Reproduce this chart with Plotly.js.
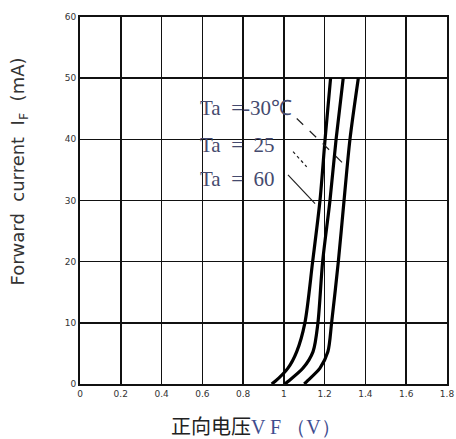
<!DOCTYPE html>
<html>
<head>
<meta charset="utf-8">
<script src="https://cdn.plot.ly/plotly-3.0.1.min.js"></script>
<style>html,body{margin:0;padding:0;background:#fff;}#chart{width:456px;height:439px;}</style>
</head>
<body>
<div id="chart"></div>
<script>
// Forward current IF (mA) vs forward voltage VF (V)
const current = [0, 0.4, 2.6, 5.3, 10, 20, 30, 40, 50];
const vfMinus30 = [1.10, 1.112, 1.177, 1.216, 1.234, 1.267, 1.295, 1.324, 1.365];
const vf25 = [1.005, 1.020, 1.094, 1.143, 1.167, 1.190, 1.226, 1.256, 1.291];
const vf60 = [0.94, 0.956, 1.020, 1.063, 1.103, 1.141, 1.177, 1.202, 1.229];
const seriesNames = ['Ta&nbsp;&nbsp;=-30℃', 'Ta&nbsp;&nbsp;=&nbsp;&nbsp;25', 'Ta&nbsp;&nbsp;=&nbsp;&nbsp;60'];
const xTicks = [0, 0.2, 0.4, 0.6, 0.8, 1, 1.2, 1.4, 1.6, 1.8];
const xTickText = ['0', '0.2', '0.4', '0.6', '0.8', '1', '1.2', '1.4', '1.6', '1.8'];
const yTicks = [0, 10, 20, 30, 40, 50, 60];
const xTitle = '正向电压';
const xTitleUnit = 'V F （V）';
const yTitle = 'Forward  current  I<sub>F</sub>  (mA)';

const curves = [vfMinus30, vf25, vf60];
const traces = curves.map((vf, i) => ({
  x: vf, y: current, type: 'scatter', mode: 'lines', name: seriesNames[i],
  line: {color: '#000', width: 3.2, shape: 'spline', smoothing: 0.8},
  hoverinfo: 'skip', showlegend: false
}));

const labelFont = {family: 'Liberation Serif, serif', size: 21, color: '#454a6e'};
const layout = {
  width: 456, height: 439,
  margin: {l: 80, r: 9, t: 17, b: 55},
  paper_bgcolor: '#fff', plot_bgcolor: '#fff',
  showlegend: false,
  xaxis: {
    range: [0, 1.8], tickvals: xTicks, ticktext: xTickText,
    showgrid: true, gridcolor: '#111', gridwidth: 1.5,
    showline: true, linecolor: '#111', linewidth: 2, mirror: true,
    zeroline: false, ticks: '',
    tickfont: {family: 'DejaVu Sans, sans-serif', size: 9, color: '#333'}
  },
  yaxis: {
    range: [0, 60], tickvals: yTicks,
    showgrid: true, gridcolor: '#111', gridwidth: 1.5,
    showline: true, linecolor: '#111', linewidth: 2, mirror: true,
    zeroline: false, ticks: '',
    tickfont: {family: 'DejaVu Sans, sans-serif', size: 9, color: '#333'}
  },
  annotations: [
    {x: 0.579, y: 45.1, xref: 'x', yref: 'y', text: seriesNames[0], showarrow: false, xanchor: 'left', yanchor: 'middle', font: labelFont},
    {x: 0.579, y: 39.1, xref: 'x', yref: 'y', text: seriesNames[1], showarrow: false, xanchor: 'left', yanchor: 'middle', font: labelFont},
    {x: 0.579, y: 33.5, xref: 'x', yref: 'y', text: seriesNames[2], showarrow: false, xanchor: 'left', yanchor: 'middle', font: labelFont},
    {x: 0.48, y: -0.112, xref: 'paper', yref: 'paper', showarrow: false, xanchor: 'center', yanchor: 'middle',
     text: '<span style="color:#222">' + xTitle + '</span><span style="font-family:Liberation Serif;color:#3f4d8f">' + xTitleUnit + '</span>',
     font: {family: 'Noto Sans CJK SC, sans-serif', size: 20, color: '#222'}},
    {x: -0.165, y: 0.58, xref: 'paper', yref: 'paper', showarrow: false, xanchor: 'center', yanchor: 'middle', textangle: -90,
     text: yTitle, font: {family: 'DejaVu Sans, sans-serif', size: 18, color: '#333'}}
  ],
  shapes: [
    {type: 'line', xref: 'x', yref: 'y', x0: 1.063, y0: 43.4, x1: 1.299, y1: 35.8, line: {color: '#222', width: 1.2, dash: 'dash'}},
    {type: 'line', xref: 'x', yref: 'y', x0: 1.045, y0: 38.0, x1: 1.112, y1: 35.5, line: {color: '#222', width: 1.2, dash: 'dot'}},
    {type: 'line', xref: 'x', yref: 'y', x0: 1.020, y0: 34.2, x1: 1.153, y1: 29.5, line: {color: '#222', width: 1.2}}
  ]
};
Plotly.newPlot('chart', traces, layout, {displayModeBar: false, staticPlot: true});
</script>
</body>
</html>
